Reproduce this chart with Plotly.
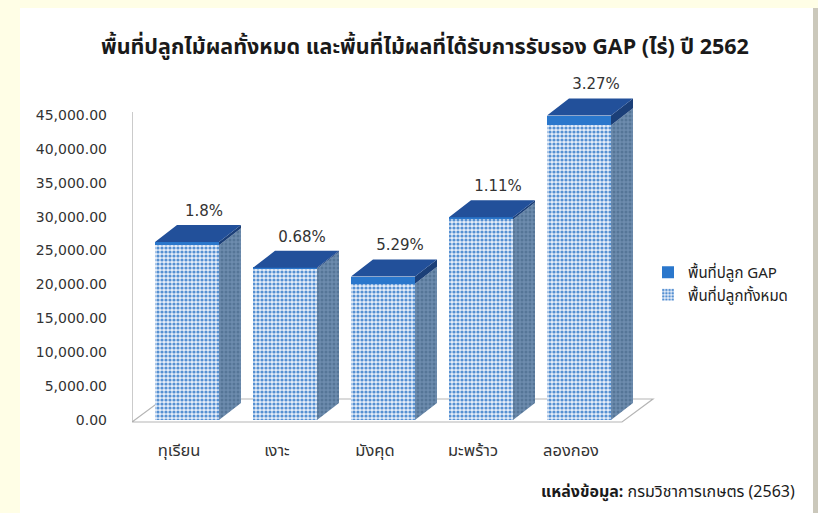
import plotly.graph_objects as go

# ---------------- data ----------------
categories = ["ทุเรียน", "เงาะ", "มังคุด", "มะพร้าว", "ลองกอง"]
total_area = [25800, 22300, 20100, 29600, 43500]   # พื้นที่ปลูกทั้งหมด (ไร่)
gap_area = [465, 150, 1065, 325, 1420]             # พื้นที่ปลูก GAP (ไร่)
pct_labels = ["1.8%", "0.68%", "5.29%", "1.11%", "3.27%"]
y_ticks = [0, 5000, 10000, 15000, 20000, 25000, 30000, 35000, 40000, 45000]

# ---------------- layout geometry ----------------
W, H = 818, 513
ML, MR, MT, MB = 132, 158, 70, 89
PW, PH = W - ML - MR, H - MT - MB
X0PX, XSTEP = 187.0, 98.0            # pixel centre of first category, spacing
Y0PX, PPU = 420.0, 305.0 / 45000.0   # pixel of value 0, pixels per unit

def dx_px(p):
    return p / XSTEP

def dy_px(p):
    return p / PPU

def xdata(px):
    return (px - X0PX) / XSTEP

def ydata(py):
    return (Y0PX - py) / PPU

def paper_x(px):
    return (px - ML) / PW

def paper_y(py):
    return (H - MB - py) / PH

BAR_W = dx_px(64)
DEPTH_X = dx_px(22)
DEPTH_Y = dy_px(17)

FONT = "Noto Sans Thai, Tahoma, Leelawadee UI, DejaVu Sans, sans-serif"

fig = go.Figure()

xs = list(range(len(categories)))

# front faces (stacked)
fig.add_trace(go.Bar(
    x=xs, y=total_area, width=BAR_W, name="พื้นที่ปลูกทั้งหมด",
    marker=dict(color="#dce8f6", line=dict(width=0),
                pattern=dict(shape=".", bgcolor="#e6eef9", fgcolor="#5590d2",
                             size=4, solidity=0.5, fillmode="replace")),
    hoverinfo="skip",
))
fig.add_trace(go.Bar(
    x=xs, y=gap_area, width=BAR_W, name="พื้นที่ปลูก GAP",
    marker=dict(color="#2a77cc", line=dict(width=0)),
    hoverinfo="skip",
))

sx, sy = [], []
gx, gy = [], []
tx, ty = [], []
for i, (t, g) in enumerate(zip(total_area, gap_area)):
    r = i + BAR_W / 2
    l = i - BAR_W / 2
    sx += [r, r + DEPTH_X, r + DEPTH_X, r, r, None]
    sy += [0, DEPTH_Y, t + DEPTH_Y, t, 0, None]
    gx += [r, r + DEPTH_X, r + DEPTH_X, r, r, None]
    gy += [t, t + DEPTH_Y, t + g + DEPTH_Y, t + g, t, None]
    top = t + g
    tx += [l, r, r + DEPTH_X, l + DEPTH_X, l, None]
    ty += [top, top, top + DEPTH_Y, top + DEPTH_Y, top, None]

fig.add_trace(go.Scatter(
    x=sx, y=sy, mode="lines", fill="toself", line=dict(width=0, color="#5a7a9c"),
    fillcolor="#5f7fa2",
    fillpattern=dict(shape=".", bgcolor="#6d8cae", fgcolor="#3d5d80", size=4, solidity=0.45),
    showlegend=False, hoverinfo="skip",
))
fig.add_trace(go.Scatter(
    x=gx, y=gy, mode="lines", fill="toself", line=dict(width=0, color="#1b3f78"),
    fillcolor="#1b3f78", showlegend=False, hoverinfo="skip",
))
fig.add_trace(go.Scatter(
    x=tx, y=ty, mode="lines", fill="toself", line=dict(width=0, color="#22509a"),
    fillcolor="#22509a", showlegend=False, hoverinfo="skip",
))

# percentage labels
lab_x = [i + dx_px(17) for i in xs]
lab_y = [t + g + DEPTH_Y + dy_px(13) for t, g in zip(total_area, gap_area)]
fig.add_trace(go.Scatter(
    x=lab_x, y=lab_y, mode="text", text=pct_labels, textposition="middle center",
    textfont=dict(family="DejaVu Sans, sans-serif", size=15, color="#333333"),
    cliponaxis=False, showlegend=False, hoverinfo="skip",
))

shapes = []
shapes.append(dict(type="rect", xref="paper", yref="paper",
                   x0=paper_x(20), x1=paper_x(813), y0=paper_y(H), y1=paper_y(8),
                   fillcolor="white", line=dict(width=0), layer="below"))
shapes.append(dict(type="rect", xref="paper", yref="paper",
                   x0=paper_x(813), x1=paper_x(W), y0=paper_y(H), y1=paper_y(8),
                   fillcolor="#cbc8bb", line=dict(width=0), layer="below"))
# floor
fx_l, fx_r = xdata(132), xdata(622)
f_front = ydata(422)
f_back = ydata(399)
f_dx = dx_px(31)
shapes.append(dict(type="path", xref="x", yref="y",
                   path=f"M {fx_l},{f_front} L {fx_r},{f_front} L {fx_r + f_dx},{f_back} "
                        f"L {fx_l + f_dx},{f_back} Z",
                   fillcolor="white", line=dict(color="#b5b5b5", width=1.2), layer="below"))
# vertical axis line
shapes.append(dict(type="line", xref="x", yref="y",
                   x0=fx_l, x1=fx_l, y0=f_front, y1=ydata(112),
                   line=dict(color="#a8a8a8", width=1.2), layer="below"))

fig.update_layout(
    width=W, height=H,
    margin=dict(l=ML, r=MR, t=MT, b=MB, pad=0, autoexpand=False),
    paper_bgcolor="#fffee6", plot_bgcolor="rgba(0,0,0,0)",
    barmode="stack", bargap=0,
    showlegend=True,
    legend=dict(x=paper_x(648), y=paper_y(256), xanchor="left", yanchor="top",
                traceorder="reversed", bgcolor="rgba(0,0,0,0)",
                font=dict(family=FONT, size=15, color="#222222"),
                itemwidth=30, tracegroupgap=4),
    shapes=shapes,
    xaxis=dict(range=[xdata(ML), xdata(W - MR)], showgrid=False, zeroline=False,
               showline=False, tickmode="array",
               tickvals=[i - dx_px(8) for i in xs], ticktext=categories,
               ticks="", ticklabelstandoff=14, automargin=False,
               tickfont=dict(family=FONT, size=16.5, color="#333333")),
    yaxis=dict(range=[ydata(H - MB), ydata(MT)], showgrid=False, zeroline=False,
               showline=False, tickmode="array", tickvals=y_ticks,
               tickformat=",.2f", ticks="", ticklabelstandoff=24, automargin=False,
               tickfont=dict(family="DejaVu Sans, sans-serif", size=14, color="#333333")),
    annotations=[
        dict(text="<b>พื้นที่ปลูกไม้ผลทั้งหมด และพื้นที่ไม้ผลที่ได้รับการรับรอง GAP (ไร่) ปี 2562</b>",
             xref="paper", yref="paper", x=paper_x(425), y=paper_y(47),
             xanchor="center", yanchor="middle", showarrow=False,
             font=dict(family=FONT, size=21.5, color="#1a1a1a")),
        dict(text="<b>แหล่งข้อมูล:</b> กรมวิชาการเกษตร (2563)",
             xref="paper", yref="paper", x=paper_x(797), y=paper_y(492),
             xanchor="right", yanchor="middle", showarrow=False,
             font=dict(family=FONT, size=16, color="#1a1a1a")),
    ],
)

fig.write_html(
    "out.html",
    config={"displayModeBar": False},
    post_script="document.body.style.margin='0';document.body.style.overflow='hidden';",
)
